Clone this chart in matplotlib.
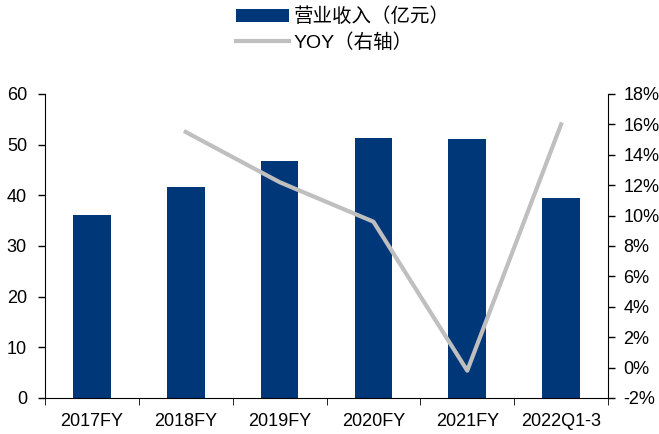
import matplotlib
matplotlib.use("Agg")
import matplotlib.pyplot as plt
from matplotlib.ticker import FuncFormatter

plt.rcParams['font.family'] = ['Liberation Sans', 'Noto Sans CJK SC', 'DejaVu Sans']

categories = ["2017FY", "2018FY", "2019FY", "2020FY", "2021FY", "2022Q1-3"]
revenue = [36.1, 41.6, 46.8, 51.3, 51.1, 39.5]
yoy = [None, 15.5, 12.2, 9.6, -0.2, 16.0]

bar_color = "#003778"
line_color = "#BFBFBF"

fig = plt.figure(figsize=(6.59, 4.34), dpi=100)
ax = fig.add_axes([45/659, 1-398/434, (608-45)/659, (398-94)/434])
x = list(range(len(categories)))
bars = ax.bar(x, revenue, width=0.4, color=bar_color, label="营业收入（亿元）", zorder=2)
ax.set_xlim(-0.5, len(categories) - 0.5)
ax.set_ylim(0, 60)
ax.set_yticks(range(0, 61, 10))
ax.set_xticks(x)
ax.set_xticklabels(categories)
for s in ["top", "right"]:
    ax.spines[s].set_visible(False)
ax.tick_params(axis='both', labelsize=13, length=5, width=1, colors='black')
ax.tick_params(axis='y', pad=8)

ax2 = ax.twinx()
xs = [i for i, v in zip(x, yoy) if v is not None]
ys = [v for v in yoy if v is not None]
line, = ax2.plot(xs, ys, color=line_color, linewidth=3, label="YOY（右轴）", zorder=3)
ax2.set_ylim(-2, 18)
ax2.set_yticks(range(-2, 19, 2))
ax2.yaxis.set_major_formatter(FuncFormatter(lambda v, p: f"{int(v)}%"))
for s in ["top", "left", "bottom"]:
    ax2.spines[s].set_visible(False)
ax2.tick_params(axis='y', labelsize=13, length=5, width=1, pad=6)

x_edges = [-0.5 + i for i in range(len(categories) + 1)]
ax.set_xticks(x_edges, minor=True)
ax.tick_params(axis='x', which='major', length=0, pad=11)
ax.tick_params(axis='x', which='minor', length=5)

fig.legend(handles=[bars, line], loc='upper center', bbox_to_anchor=(343/659, 1.0),
           frameon=False, fontsize=14, handlelength=2.7, handletextpad=0.25,
           labelspacing=0.35, borderaxespad=0.0, ncol=1)

fig.savefig("out.png", dpi=100)
